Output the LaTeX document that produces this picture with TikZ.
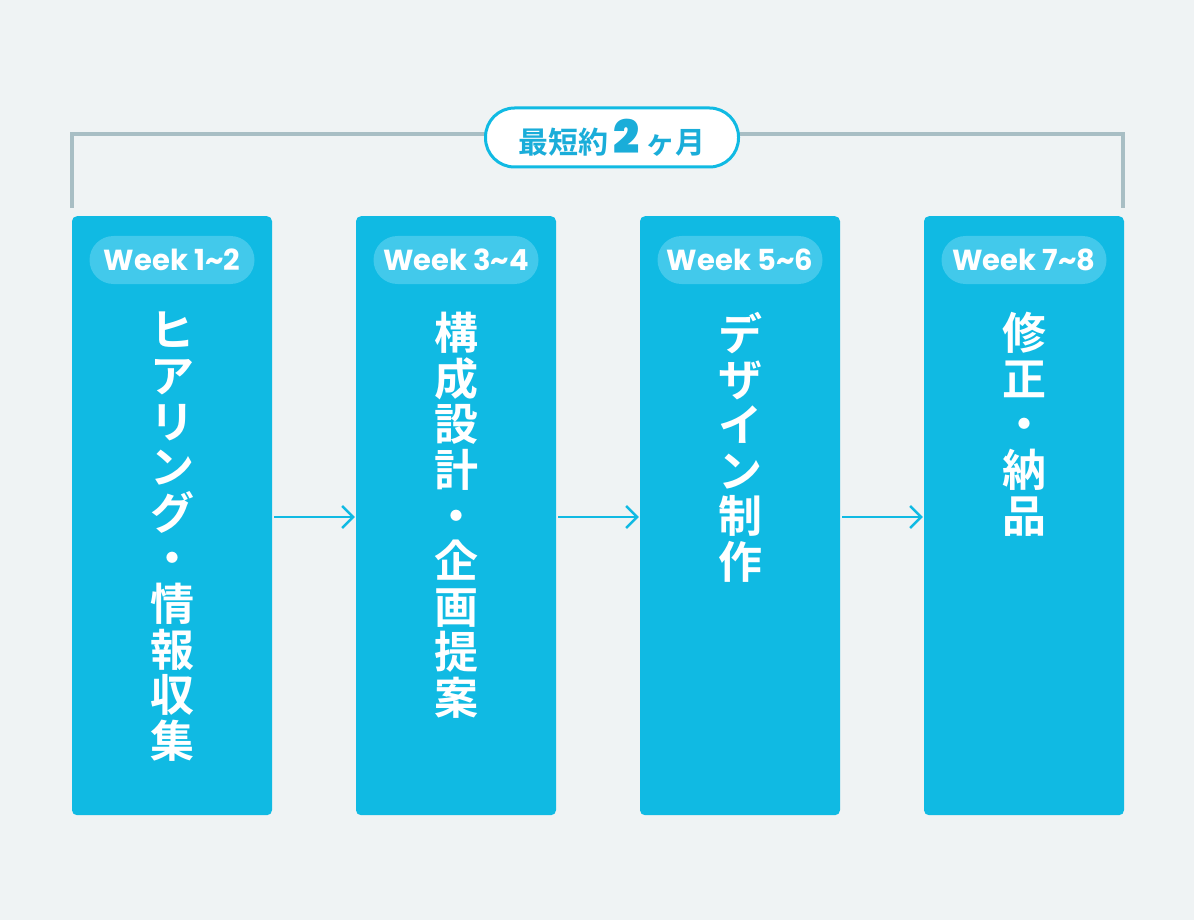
\documentclass[tikz,border=0pt]{standalone}
\usepackage{fontspec}
\usetikzlibrary{arrows.meta}
\newfontfamily\jp{Noto Sans CJK JP}[BoldFont={* Bold}]
\newfontfamily\latb{Poppins Bold}
\definecolor{bg}{HTML}{EFF3F4}
\definecolor{cyanbox}{HTML}{10BAE3}
\definecolor{pillc}{HTML}{42C9EB}
\definecolor{brk}{HTML}{A8BEC4}
\definecolor{ttl}{HTML}{1AADD9}
\tikzset{
  stagebox/.style={fill=cyanbox, rounded corners=5pt, minimum width=200pt, minimum height=599pt, anchor=north, inner sep=0pt},
  weekpill/.style={fill=pillc, rounded corners=24pt, minimum width=165pt, minimum height=48pt, inner sep=0pt, text=white, font=\latb\fontsize{29}{29}\selectfont},
  vtext/.style={anchor=north, text=white, align=center, inner sep=0pt, font=\jp\bfseries\fontsize{44}{45.6}\selectfont},
  flow/.style={draw=cyanbox, line width=2.4pt, -{Straight Barb[length=11pt,width=22pt,line width=2.4pt]}},
  bracket/.style={draw=brk, line width=3.5pt},
  titlepill/.style={draw=cyanbox, fill=white, line width=3pt, rounded corners=29pt, minimum width=253pt, minimum height=59pt, inner sep=0pt, text=ttl}
}
\begin{document}
\begin{tikzpicture}[x=1pt,y=-1pt]
\fill[bg] (0,0) rectangle (1194,920);
\useasboundingbox (0,0) rectangle (1194,920);
% bracket
\coordinate (bl) at (72,208);
\coordinate (br) at (1123,208);
\draw[bracket] (bl) |- (br |- 0,134) -- (br);
% title pill
\node[titlepill] (title) at (612,137.5) {\jp\bfseries\fontsize{30}{30}\selectfont 最短約\,{\latb\fontsize{46}{46}\selectfont 2}\,ヶ月};
% boxes
\node[stagebox] (b1) at (172,216) {};
\node[stagebox] (b2) at (456,216) {};
\node[stagebox] (b3) at (740,216) {};
\node[stagebox] (b4) at (1024,216) {};
% week pills
\node[weekpill] (w1) at (172,260) {Week 1\char`~2};
\node[weekpill] (w2) at (456,260) {Week 3\char`~4};
\node[weekpill] (w3) at (740,260) {Week 5\char`~6};
\node[weekpill] (w4) at (1024,260) {Week 7\char`~8};
% vertical texts
\node[vtext] (t1) at (172,312) {ヒ\\ア\\リ\\ン\\グ\\・\\情\\報\\収\\集};
\node[vtext] (t2) at (456,312) {構\\成\\設\\計\\・\\企\\画\\提\\案};
\node[vtext] (t3) at (740,312) {デ\\ザ\\イ\\ン\\制\\作};
\node[vtext] (t4) at (1024,312) {修\\正\\・\\納\\品};
% arrows
\draw[flow] (b1.east |- 0,517) ++(2,0) -- ([xshift=-1pt]b2.west |- 0,517);
\draw[flow] (b2.east |- 0,517) ++(2,0) -- ([xshift=-1pt]b3.west |- 0,517);
\draw[flow] (b3.east |- 0,517) ++(2,0) -- ([xshift=-1pt]b4.west |- 0,517);
\end{tikzpicture}
\end{document}
